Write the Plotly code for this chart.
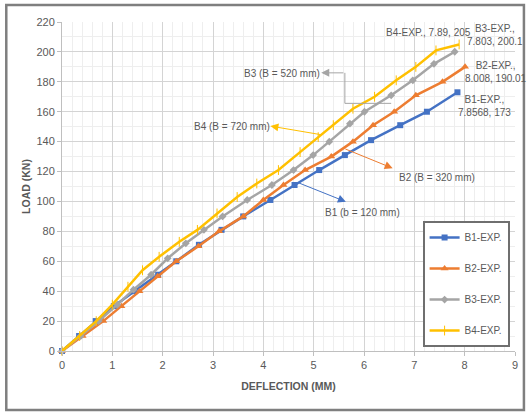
import plotly.graph_objects as go

# Load-deflection test data (deflection in mm, load in kN)
b1_defl = [0, 0.34, 0.67, 1.03, 1.44, 1.91, 2.27, 2.72, 3.17, 3.6, 4.14, 4.62, 5.11, 5.62, 6.14, 6.72, 7.25, 7.8568]
b1_load = [0, 10, 20, 30, 40, 51, 60, 71, 81, 90, 101, 111, 121, 131, 141, 151, 160, 173]

b2_defl = [0, 0.41, 0.82, 1.18, 1.54, 1.9, 2.27, 2.71, 3.12, 3.6, 4.0, 4.4, 4.83, 5.35, 5.78, 6.18, 6.6, 7.03, 7.56, 8.008]
b2_load = [0, 10, 20, 30, 40, 50, 60, 70, 80, 90, 101, 111, 121, 130, 140, 151, 160, 171, 180, 190.01]

b3_defl = [0, 0.37, 0.73, 1.1, 1.42, 1.77, 2.1, 2.46, 2.82, 3.19, 3.68, 4.17, 4.6, 4.99, 5.31, 5.72, 6.01, 6.54, 6.97, 7.39, 7.803]
b3_load = [0, 10, 20, 31, 41, 51, 62, 72, 81, 90, 101, 111, 121, 131, 140, 152, 160, 171, 181, 192, 200.1]

b4_defl = [0, 0.35, 0.68, 1.0, 1.31, 1.6, 1.93, 2.33, 2.69, 3.08, 3.48, 3.87, 4.3, 4.73, 5.09, 5.39, 5.78, 6.21, 6.64, 7.03, 7.43, 7.89]
b4_load = [0, 10, 20, 31, 43, 54, 63, 73, 81, 92, 103, 112, 121, 133, 143, 151, 162, 170, 181, 190, 201, 205]

series_names = ["B1-EXP.", "B2-EXP.", "B3-EXP.", "B4-EXP."]
x_ticks = list(range(0, 10))
y_ticks = list(range(0, 221, 20))

FONT = "Liberation Sans, Arial, sans-serif"
TXT = "#595959"

BLUE = "#4472C4"
ORANGE = "#ED7D31"
GRAY = "#A5A5A5"
GOLD = "#FFC000"

fig = go.Figure()

styles = [
    (b1_defl, b1_load, BLUE, dict(symbol="square", size=6, color=BLUE)),
    (b2_defl, b2_load, ORANGE, dict(symbol="triangle-up", size=7, color=ORANGE)),
    (b3_defl, b3_load, GRAY, dict(symbol="diamond", size=6, color=GRAY)),
    (b4_defl, b4_load, GOLD, dict(symbol="line-ns", size=7, color=GOLD,
                                  line=dict(width=1, color=GOLD))),
]
for name, (xs, ys, col, mk) in zip(series_names, styles):
    fig.add_trace(go.Scatter(
        x=xs, y=ys, name=name, mode="lines+markers",
        line=dict(color=col, width=2.5), marker=mk,
        legendgroup=name, cliponaxis=False,
    ))

annotations = []

# end-point data labels
def end_label(text, x, y):
    annotations.append(dict(text=text, x=x, y=y, xref="x", yref="y", showarrow=False,
                            align="center", font=dict(size=10, color=TXT, family=FONT)))

end_label(f"{series_names[3]}, {b4_defl[-1]}, {b4_load[-1]:g}", 7.28, 213.3)
end_label(f"{series_names[2]},<br>{b3_defl[-1]}, {b3_load[-1]:g}", 8.6, 211.5)
end_label(f"{series_names[1]},<br>{b2_defl[-1]}, {b2_load[-1]:g}", 8.62, 186.5)
end_label(f"{series_names[0]},<br>{b1_defl[-1]}, {b1_load[-1]:g}", 8.4, 164.0)

# callout texts
def callout(text, x, y):
    annotations.append(dict(text=text, x=x, y=y, xref="x", yref="y", showarrow=False,
                            font=dict(size=10, color=TXT, family=FONT)))

callout("B1 (b = 120 mm)", 5.98, 92.3)
callout("B2 (B = 320 mm)", 7.46, 115.7)
callout("B3 (B = 520 mm)", 4.38, 185.9)
callout("B4 (B = 720 mm)", 3.37, 150.4)

# callout arrows (head at x,y; tail at ax,ay)
def arrow(x, y, ax, ay, col):
    annotations.append(dict(text="", x=x, y=y, ax=ax, ay=ay, xref="x", yref="y",
                            axref="x", ayref="y", showarrow=True, arrowhead=2,
                            arrowsize=1.6, arrowwidth=1, arrowcolor=col))

arrow(5.64, 99.8, 4.66, 113.0, BLUE)
arrow(6.57, 122.2, 5.6, 135.5, ORANGE)
arrow(4.14, 150.4, 5.19, 144.4, GOLD)
arrow(5.15, 186.0, 5.62, 186.0, GRAY)

shapes = [
    # elbow connector for the B3 callout
    dict(type="path", xref="x", yref="y",
         path="M 5.62 186 L 5.62 165.6 L 6.54 165.6",
         line=dict(color=GRAY, width=1)),
    # outer chart frame
    dict(type="rect", xref="paper", yref="paper", x0=-0.123, x1=1.0197, y0=-0.1795, y1=1.0517,
         line=dict(color="#7F7F7F", width=2.5), layer="below"),
]

fig.update_layout(
    width=530, height=413,
    margin=dict(l=62, r=12, t=22, b=62),
    paper_bgcolor="white", plot_bgcolor="white",
    font=dict(family=FONT, size=10, color=TXT),
    showlegend=True,
    legend=dict(x=0.796, y=0.395, xanchor="left", yanchor="top",
                bordercolor="#6F6F6F", borderwidth=2, bgcolor="white",
                font=dict(size=10, color=TXT, family=FONT),
                tracegroupgap=12, itemwidth=30),
    annotations=annotations,
    shapes=shapes,
    xaxis=dict(range=[0, 9], tickvals=x_ticks, showgrid=True, gridcolor="#D4D4D4", gridwidth=1,
               minor=dict(dtick=0.2, showgrid=True, gridcolor="#EEEEEE", gridwidth=1),
               zeroline=False, showline=True, linecolor="#BFBFBF", linewidth=1,
               ticks="outside", ticklen=4, tickcolor="#BFBFBF",
               tickfont=dict(size=11, color=TXT),
               title=dict(text="<b>DEFLECTION (MM)</b>", font=dict(size=10.5, color=TXT), standoff=12)),
    yaxis=dict(range=[0, 220], tickvals=y_ticks, showgrid=True, gridcolor="#D4D4D4", gridwidth=1,
               minor=dict(dtick=10, showgrid=True, gridcolor="#EEEEEE", gridwidth=1),
               zeroline=False, showline=True, linecolor="#BFBFBF", linewidth=1,
               ticks="outside", ticklen=4, tickcolor="#BFBFBF",
               tickfont=dict(size=11, color=TXT),
               title=dict(text="<b>LOAD (KN)</b>", font=dict(size=10.5, color=TXT), standoff=3)),
)

fig.write_html("out.html")
